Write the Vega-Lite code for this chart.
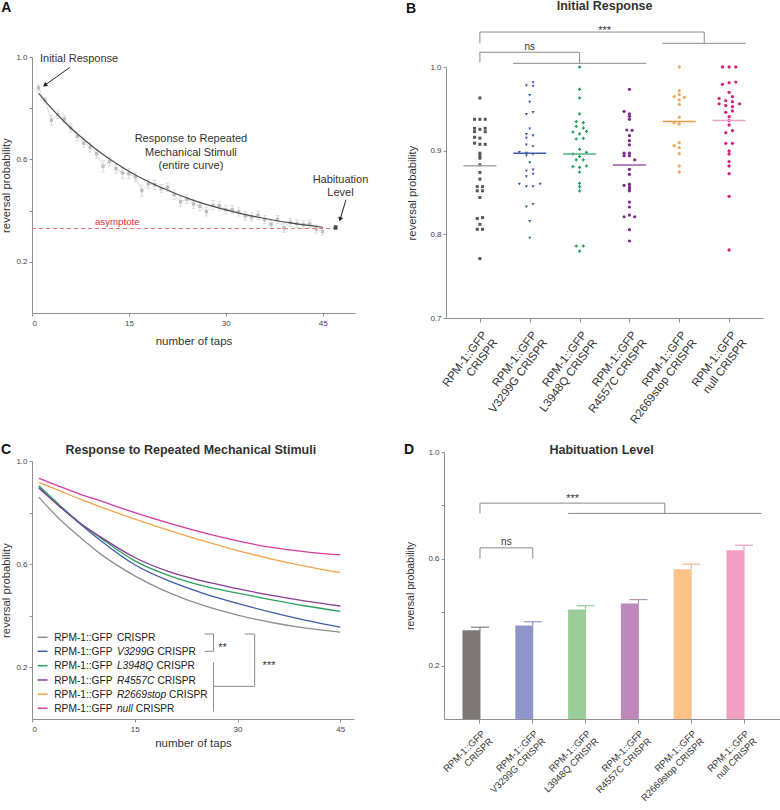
{
"$schema": "https://vega.github.io/schema/vega-lite/v6.json",
"background": "white",
"padding": {"left": 0, "top": 0, "right": 0, "bottom": 0},
"config": {
  "font": "Liberation Sans",
  "view": {"stroke": null},
  "axis": {"grid": false, "domainColor": "#909090", "tickColor": "#909090", "labelColor": "#444444", "titleColor": "#333333", "titleFontWeight": "normal", "labelFontSize": 8, "titleFontSize": 11.3, "tickSize": 3, "labelPadding": 2}
},
"datasets": {
  "a_pts": [
    {"tap":1,"v":0.879,"err":0.012},{"tap":2,"v":0.831,"err":0.012},{"tap":3,"v":0.753,"err":0.02},{"tap":4,"v":0.775,"err":0.015},{"tap":5,"v":0.758,"err":0.013},
    {"tap":6,"v":0.723,"err":0.017},{"tap":7,"v":0.690,"err":0.018},{"tap":8,"v":0.664,"err":0.016},{"tap":9,"v":0.647,"err":0.018},{"tap":10,"v":0.622,"err":0.018},
    {"tap":11,"v":0.573,"err":0.022},{"tap":12,"v":0.592,"err":0.017},{"tap":13,"v":0.564,"err":0.018},{"tap":14,"v":0.547,"err":0.022},{"tap":15,"v":0.544,"err":0.02},
    {"tap":16,"v":0.531,"err":0.018},{"tap":17,"v":0.478,"err":0.022},{"tap":18,"v":0.504,"err":0.017},{"tap":19,"v":0.501,"err":0.018},{"tap":20,"v":0.486,"err":0.016},
    {"tap":21,"v":0.491,"err":0.017},{"tap":22,"v":0.462,"err":0.018},{"tap":23,"v":0.435,"err":0.02},{"tap":24,"v":0.445,"err":0.017},{"tap":25,"v":0.426,"err":0.018},
    {"tap":26,"v":0.417,"err":0.017},{"tap":27,"v":0.396,"err":0.017},{"tap":28,"v":0.421,"err":0.018},{"tap":29,"v":0.419,"err":0.018},{"tap":30,"v":0.404,"err":0.017},
    {"tap":31,"v":0.404,"err":0.016},{"tap":32,"v":0.395,"err":0.016},{"tap":33,"v":0.380,"err":0.017},{"tap":34,"v":0.375,"err":0.016},{"tap":35,"v":0.382,"err":0.016},
    {"tap":36,"v":0.365,"err":0.016},{"tap":37,"v":0.346,"err":0.015},{"tap":38,"v":0.365,"err":0.016},{"tap":39,"v":0.332,"err":0.017},{"tap":40,"v":0.354,"err":0.016},
    {"tap":41,"v":0.349,"err":0.015},{"tap":42,"v":0.345,"err":0.015},{"tap":43,"v":0.348,"err":0.015},{"tap":44,"v":0.328,"err":0.016},{"tap":45,"v":0.319,"err":0.015}
  ],
  "a_fit": [
    {"tap":1,"v":0.859},{"tap":3,"v":0.800},{"tap":5,"v":0.747},{"tap":7,"v":0.700},{"tap":10,"v":0.638},{"tap":13,"v":0.585},{"tap":16,"v":0.539},
    {"tap":20,"v":0.490},{"tap":25,"v":0.440},{"tap":30,"v":0.403},{"tap":35,"v":0.374},{"tap":40,"v":0.352},{"tap":45,"v":0.335}
  ],
  "a_asym": [{"tap":0,"tap2":47,"v":0.330}],
  "a_hab": [{"tap":47,"v":0.334,"err":0.008}],
  "a_txt": [
    {"tap":7.29,"v":0.979,"label":"Initial Response"},
    {"tap":24.6,"v":0.668,"label":"Response to Repeated\nMechanical Stimuli\n(entire curve)"},
    {"tap":47.75,"v":0.509,"label":"Habituation\nLevel"}
  ],
  "a_asymtxt": [{"tap":13.2,"v":0.345,"label":"asymptote"}],
  "a_arr": [{"tap":5.85,"v":0.959,"tap2":1.99,"v2":0.890},{"tap":48.6,"v":0.4426,"tap2":47.7,"v2":0.366}],
  "a_head1": [{"tap":1.99,"v":0.890}],
  "a_head2": [{"tap":47.7,"v":0.366}],
  "a_letter": [{"tap":-4.75,"v":1.1742,"label":"A"}],
  "b_pts": [
    {"g":"CRISPR","v":0.963,"k":0},
    {"g":"CRISPR","v":0.9375,"k":-2},{"g":"CRISPR","v":0.9375,"k":0},{"g":"CRISPR","v":0.9375,"k":2},
    {"g":"CRISPR","v":0.9267,"k":-2},{"g":"CRISPR","v":0.9227,"k":-2},{"g":"CRISPR","v":0.9255,"k":0},{"g":"CRISPR","v":0.9267,"k":2},{"g":"CRISPR","v":0.9227,"k":2},
    {"g":"CRISPR","v":0.916,"k":-2},{"g":"CRISPR","v":0.915,"k":0},
    {"g":"CRISPR","v":0.909,"k":-2},{"g":"CRISPR","v":0.9076,"k":0},{"g":"CRISPR","v":0.9076,"k":2},
    {"g":"CRISPR","v":0.897,"k":0},{"g":"CRISPR","v":0.894,"k":0},{"g":"CRISPR","v":0.891,"k":0},
    {"g":"CRISPR","v":0.883,"k":0},{"g":"CRISPR","v":0.874,"k":0},{"g":"CRISPR","v":0.866,"k":0},
    {"g":"CRISPR","v":0.857,"k":-1},{"g":"CRISPR","v":0.857,"k":1},{"g":"CRISPR","v":0.852,"k":-1},{"g":"CRISPR","v":0.852,"k":1},
    {"g":"CRISPR","v":0.844,"k":0},
    {"g":"CRISPR","v":0.819,"k":-1},{"g":"CRISPR","v":0.820,"k":1},{"g":"CRISPR","v":0.812,"k":0},
    {"g":"CRISPR","v":0.806,"k":-1},{"g":"CRISPR","v":0.806,"k":1},{"g":"CRISPR","v":0.771,"k":0},
    {"g":"V3299G","v":0.9777,"k":-1.25},{"g":"V3299G","v":0.9813,"k":1.25},{"g":"V3299G","v":0.977,"k":1.25},
    {"g":"V3299G","v":0.966,"k":0},{"g":"V3299G","v":0.958,"k":0},
    {"g":"V3299G","v":0.9434,"k":-1.25},{"g":"V3299G","v":0.9458,"k":1.25},{"g":"V3299G","v":0.926,"k":0},
    {"g":"V3299G","v":0.9195,"k":-1.25},{"g":"V3299G","v":0.918,"k":1.25},{"g":"V3299G","v":0.915,"k":-1.25},
    {"g":"V3299G","v":0.907,"k":-1.25},{"g":"V3299G","v":0.905,"k":1.25},
    {"g":"V3299G","v":0.898,"k":-3.9},{"g":"V3299G","v":0.897,"k":-1.25},{"g":"V3299G","v":0.894,"k":-1.25},{"g":"V3299G","v":0.8956,"k":1.25},
    {"g":"V3299G","v":0.8857,"k":0},
    {"g":"V3299G","v":0.8757,"k":-1.25},{"g":"V3299G","v":0.877,"k":1.25},{"g":"V3299G","v":0.872,"k":1.25},{"g":"V3299G","v":0.869,"k":-1.25},
    {"g":"V3299G","v":0.860,"k":-3.9},{"g":"V3299G","v":0.857,"k":-1.25},{"g":"V3299G","v":0.857,"k":1.25},{"g":"V3299G","v":0.860,"k":3.9},
    {"g":"V3299G","v":0.833,"k":-1.25},{"g":"V3299G","v":0.836,"k":1.25},{"g":"V3299G","v":0.8155,"k":0},{"g":"V3299G","v":0.7956,"k":0},
    {"g":"L3948Q","v":1.0,"k":0},{"g":"L3948Q","v":0.9733,"k":0},{"g":"L3948Q","v":0.963,"k":0},{"g":"L3948Q","v":0.944,"k":0},
    {"g":"L3948Q","v":0.9347,"k":-1.25},{"g":"L3948Q","v":0.9335,"k":1.4},{"g":"L3948Q","v":0.929,"k":-1.25},{"g":"L3948Q","v":0.927,"k":1.4},
    {"g":"L3948Q","v":0.9223,"k":-2.5},{"g":"L3948Q","v":0.923,"k":2.6},{"g":"L3948Q","v":0.920,"k":0},
    {"g":"L3948Q","v":0.914,"k":-1.25},{"g":"L3948Q","v":0.9147,"k":1.4},{"g":"L3948Q","v":0.9016,"k":0},
    {"g":"L3948Q","v":0.896,"k":-2.5},{"g":"L3948Q","v":0.898,"k":2.6},
    {"g":"L3948Q","v":0.893,"k":0},{"g":"L3948Q","v":0.889,"k":-1.25},{"g":"L3948Q","v":0.889,"k":1.4},
    {"g":"L3948Q","v":0.881,"k":-2.5},{"g":"L3948Q","v":0.8817,"k":2.6},{"g":"L3948Q","v":0.880,"k":0},{"g":"L3948Q","v":0.8745,"k":0},
    {"g":"L3948Q","v":0.861,"k":0},{"g":"L3948Q","v":0.857,"k":0},{"g":"L3948Q","v":0.852,"k":0},
    {"g":"L3948Q","v":0.786,"k":-1.25},{"g":"L3948Q","v":0.786,"k":1.4},{"g":"L3948Q","v":0.780,"k":0},
    {"g":"R4557C","v":0.9733,"k":0},
    {"g":"R4557C","v":0.947,"k":-2},{"g":"R4557C","v":0.944,"k":0},{"g":"R4557C","v":0.941,"k":0},{"g":"R4557C","v":0.9375,"k":0},
    {"g":"R4557C","v":0.9247,"k":-1},{"g":"R4557C","v":0.9243,"k":1},{"g":"R4557C","v":0.918,"k":0},{"g":"R4557C","v":0.912,"k":0},{"g":"R4557C","v":0.907,"k":0},
    {"g":"R4557C","v":0.897,"k":-2},{"g":"R4557C","v":0.897,"k":0},{"g":"R4557C","v":0.894,"k":-2},{"g":"R4557C","v":0.894,"k":0},{"g":"R4557C","v":0.889,"k":2},
    {"g":"R4557C","v":0.8777,"k":0},{"g":"R4557C","v":0.8717,"k":0},
    {"g":"R4557C","v":0.8586,"k":-2},{"g":"R4557C","v":0.860,"k":0},{"g":"R4557C","v":0.857,"k":0},{"g":"R4557C","v":0.8546,"k":0},{"g":"R4557C","v":0.852,"k":0},
    {"g":"R4557C","v":0.8386,"k":0},{"g":"R4557C","v":0.8327,"k":0},
    {"g":"R4557C","v":0.821,"k":-2},{"g":"R4557C","v":0.823,"k":0},{"g":"R4557C","v":0.821,"k":2},
    {"g":"R4557C","v":0.8056,"k":0},{"g":"R4557C","v":0.792,"k":0},
    {"g":"R2669stop","v":1.0,"k":0},{"g":"R2669stop","v":0.9717,"k":0},
    {"g":"R2669stop","v":0.9647,"k":-1.9},{"g":"R2669stop","v":0.967,"k":0},{"g":"R2669stop","v":0.9637,"k":1.9},{"g":"R2669stop","v":0.9606,"k":0},
    {"g":"R2669stop","v":0.9554,"k":0},{"g":"R2669stop","v":0.94,"k":0},
    {"g":"R2669stop","v":0.9335,"k":-1.9},{"g":"R2669stop","v":0.932,"k":0},
    {"g":"R2669stop","v":0.906,"k":-1.9},{"g":"R2669stop","v":0.9096,"k":0},{"g":"R2669stop","v":0.9036,"k":0},
    {"g":"R2669stop","v":0.8964,"k":0},{"g":"R2669stop","v":0.8817,"k":0},{"g":"R2669stop","v":0.8745,"k":0},
    {"g":"null","v":1.0,"k":-2.5},{"g":"null","v":1.0,"k":0},{"g":"null","v":1.0,"k":2.5},
    {"g":"null","v":0.9793,"k":-2.5},{"g":"null","v":0.9813,"k":0},{"g":"null","v":0.982,"k":2.5},
    {"g":"null","v":0.9697,"k":0},
    {"g":"null","v":0.9625,"k":-3.75},{"g":"null","v":0.9598,"k":-1.25},{"g":"null","v":0.9645,"k":1.25},
    {"g":"null","v":0.956,"k":-3.75},{"g":"null","v":0.954,"k":-1.25},{"g":"null","v":0.9586,"k":1.25},{"g":"null","v":0.956,"k":3.9},
    {"g":"null","v":0.9526,"k":1.25},{"g":"null","v":0.9458,"k":-1.25},{"g":"null","v":0.9474,"k":1.25},
    {"g":"null","v":0.9406,"k":0},{"g":"null","v":0.936,"k":0},{"g":"null","v":0.9307,"k":0},
    {"g":"null","v":0.924,"k":1.25},{"g":"null","v":0.9215,"k":-1.25},
    {"g":"null","v":0.9088,"k":-1.25},{"g":"null","v":0.9088,"k":1.25},
    {"g":"null","v":0.8996,"k":0},{"g":"null","v":0.896,"k":0},{"g":"null","v":0.887,"k":0},{"g":"null","v":0.8817,"k":0},
    {"g":"null","v":0.8725,"k":0},{"g":"null","v":0.8454,"k":0},{"g":"null","v":0.7813,"k":0}
  ],
  "b_med": [{"g":"CRISPR","v":0.882},{"g":"V3299G","v":0.897},{"g":"L3948Q","v":0.896},{"g":"R4557C","v":0.883},{"g":"R2669stop","v":0.935},{"g":"null","v":0.936}],
  "b_br0": [{"g":"CRISPR","g2":"CRISPR","v":1.0418,"v2":1.0283},{"g":"CRISPR","g2":"L3948Q","v":1.0176,"v2":1.0176},{"g":"CRISPR","g2":"CRISPR","v":1.0176,"v2":1.0056},{"g":"L3948Q","g2":"L3948Q","v":1.0176,"v2":1.0044}],
  "b_br1": [{"g":"CRISPR","g2":"R2669stop","v":1.0418,"v2":1.0418}],
  "b_br2": [{"g":"R2669stop","g2":"R2669stop","v":1.0418,"v2":1.0283}],
  "b_br3": [{"g":"R2669stop","g2":"null","v":1.0283,"v2":1.0283},{"g":"V3299G","g2":"R4557C","v":1.0044,"v2":1.0044}],
  "b_title": [{"g":"L3948Q","v":1.0681,"label":"Initial Response"}],
  "b_star": [{"g":"L3948Q","v":1.0397,"label":"***"}],
  "b_ns": [{"g":"V3299G","v":1.0203,"label":"ns"}],
  "b_letter": [{"g":"CRISPR","v":1.0649,"label":"B"}],
  "c_lines": [
    {"g":"CRISPR","tap":1,"v":0.860},{"g":"CRISPR","tap":4,"v":0.775},{"g":"CRISPR","tap":7,"v":0.705},{"g":"CRISPR","tap":10,"v":0.640},{"g":"CRISPR","tap":15,"v":0.555},{"g":"CRISPR","tap":20,"v":0.490},{"g":"CRISPR","tap":25,"v":0.440},{"g":"CRISPR","tap":30,"v":0.403},{"g":"CRISPR","tap":35,"v":0.374},{"g":"CRISPR","tap":40,"v":0.352},{"g":"CRISPR","tap":45,"v":0.337},
    {"g":"V3299G","tap":1,"v":0.898},{"g":"V3299G","tap":4,"v":0.825},{"g":"V3299G","tap":7,"v":0.757},{"g":"V3299G","tap":10,"v":0.692},{"g":"V3299G","tap":15,"v":0.598},{"g":"V3299G","tap":20,"v":0.535},{"g":"V3299G","tap":25,"v":0.487},{"g":"V3299G","tap":30,"v":0.448},{"g":"V3299G","tap":35,"v":0.413},{"g":"V3299G","tap":40,"v":0.382},{"g":"V3299G","tap":45,"v":0.356},
    {"g":"L3948Q","tap":1,"v":0.904},{"g":"L3948Q","tap":4,"v":0.830},{"g":"L3948Q","tap":7,"v":0.760},{"g":"L3948Q","tap":10,"v":0.702},{"g":"L3948Q","tap":15,"v":0.613},{"g":"L3948Q","tap":20,"v":0.556},{"g":"L3948Q","tap":25,"v":0.516},{"g":"L3948Q","tap":30,"v":0.488},{"g":"L3948Q","tap":35,"v":0.462},{"g":"L3948Q","tap":40,"v":0.438},{"g":"L3948Q","tap":45,"v":0.417},
    {"g":"R4557C","tap":1,"v":0.894},{"g":"R4557C","tap":4,"v":0.825},{"g":"R4557C","tap":7,"v":0.760},{"g":"R4557C","tap":10,"v":0.706},{"g":"R4557C","tap":15,"v":0.626},{"g":"R4557C","tap":20,"v":0.571},{"g":"R4557C","tap":25,"v":0.534},{"g":"R4557C","tap":30,"v":0.505},{"g":"R4557C","tap":35,"v":0.479},{"g":"R4557C","tap":40,"v":0.457},{"g":"R4557C","tap":45,"v":0.438},
    {"g":"R2669stop","tap":1,"v":0.917},{"g":"R2669stop","tap":4,"v":0.885},{"g":"R2669stop","tap":7,"v":0.852},{"g":"R2669stop","tap":10,"v":0.822},{"g":"R2669stop","tap":15,"v":0.775},{"g":"R2669stop","tap":20,"v":0.731},{"g":"R2669stop","tap":25,"v":0.690},{"g":"R2669stop","tap":30,"v":0.653},{"g":"R2669stop","tap":35,"v":0.620},{"g":"R2669stop","tap":40,"v":0.592},{"g":"R2669stop","tap":45,"v":0.567},
    {"g":"null","tap":1,"v":0.933},{"g":"null","tap":4,"v":0.902},{"g":"null","tap":7,"v":0.872},{"g":"null","tap":10,"v":0.845},{"g":"null","tap":15,"v":0.800},{"g":"null","tap":20,"v":0.759},{"g":"null","tap":25,"v":0.722},{"g":"null","tap":30,"v":0.690},{"g":"null","tap":35,"v":0.665},{"g":"null","tap":40,"v":0.648},{"g":"null","tap":45,"v":0.636}
  ],
  "c_leg": [
    {"g":"CRISPR","tap":0.82,"tap2":2.27,"v":0.3167},{"g":"V3299G","tap":0.82,"tap2":2.27,"v":0.2624},{"g":"L3948Q","tap":0.82,"tap2":2.27,"v":0.2066},
    {"g":"R4557C","tap":0.82,"tap2":2.27,"v":0.1512},{"g":"R2669stop","tap":0.82,"tap2":2.27,"v":0.0957},{"g":"null","tap":0.82,"tap2":2.27,"v":0.0415}
  ],
  "c_txt": [
    {"tap":3.25,"v":0.3023,"label":"RPM-1::GFP"},{"tap":3.25,"v":0.2481,"label":"RPM-1::GFP"},{"tap":3.25,"v":0.1922,"label":"RPM-1::GFP"},
    {"tap":3.25,"v":0.1368,"label":"RPM-1::GFP"},{"tap":3.25,"v":0.0814,"label":"RPM-1::GFP"},{"tap":3.25,"v":0.0271,"label":"RPM-1::GFP"},
    {"tap":12.39,"v":0.3023,"label":"CRISPR"},{"tap":18.31,"v":0.2481,"label":"CRISPR"},{"tap":18.16,"v":0.1922,"label":"CRISPR"},
    {"tap":18.31,"v":0.1368,"label":"CRISPR"},{"tap":20.01,"v":0.0814,"label":"CRISPR"},{"tap":15.16,"v":0.0271,"label":"CRISPR"}
  ],
  "c_it": [
    {"tap":12.39,"v":0.2481,"label":"V3299G"},{"tap":12.39,"v":0.1922,"label":"L3948Q"},{"tap":12.39,"v":0.1368,"label":"R4557C"},
    {"tap":12.39,"v":0.0814,"label":"R2669stop"},{"tap":12.39,"v":0.0271,"label":"null"}
  ],
  "c_br": [
    {"tap":25.2,"tap2":26.5,"v":0.3295,"v2":0.3295},{"tap":26.5,"tap2":26.5,"v":0.3295,"v2":0.2624},{"tap":25.2,"tap2":26.5,"v":0.2624,"v2":0.2624},
    {"tap":26.5,"tap2":26.5,"v":0.2198,"v2":0.0283},{"tap":26.5,"tap2":32.5,"v":0.1267,"v2":0.1267},
    {"tap":31.05,"tap2":32.5,"v":0.3295,"v2":0.3295},{"tap":32.5,"tap2":32.5,"v":0.3295,"v2":0.1267}
  ],
  "c_bt": [{"tap":27.8,"v":0.2636,"label":"**"},{"tap":34.6,"v":0.195,"label":"***"}],
  "c_letter": [{"tap":-4.52,"v":1.027,"label":"C"}],
  "c_title": [{"tap":23.18,"v":1.028,"label":"Response to Repeated Mechanical Stimuli"}],
  "d_bars": [
    {"g":"CRISPR","v":0.332,"hi":0.344},{"g":"V3299G","v":0.350,"hi":0.364},{"g":"L3948Q","v":0.410,"hi":0.424},
    {"g":"R4557C","v":0.433,"hi":0.447},{"g":"R2669stop","v":0.561,"hi":0.580},{"g":"null","v":0.632,"hi":0.651}
  ],
  "d_br0": [{"g":"CRISPR","g2":"CRISPR","v":0.8085,"v2":0.770},{"g":"CRISPR","g2":"V3299G","v":0.641,"v2":0.641},{"g":"CRISPR","g2":"CRISPR","v":0.641,"v2":0.601},{"g":"V3299G","g2":"V3299G","v":0.641,"v2":0.601}],
  "d_br1": [{"g":"CRISPR","g2":"R4557C","v":0.8085,"v2":0.8085}],
  "d_br2": [{"g":"R4557C","g2":"R4557C","v":0.8085,"v2":0.770}],
  "d_br3": [{"g":"L3948Q","g2":"null","v":0.770,"v2":0.770}],
  "d_title": [{"g":"L3948Q","v":0.9938,"label":"Habituation Level"}],
  "d_star": [{"g":"L3948Q","v":0.8125,"label":"***"}],
  "d_ns": [{"g":"CRISPR","v":0.652,"label":"ns"}],
  "d_letter": [{"g":"CRISPR","v":0.9927,"label":"D"}]
},
"spacing": 16,
"bounds": "full",
"resolve": {"scale": {"color": "independent", "fill": "independent", "stroke": "independent", "shape": "independent", "size": "independent"}},
"vconcat": [
  {
    "spacing": 36,
    "bounds": "full",
    "resolve": {"scale": {"color": "independent", "fill": "independent", "stroke": "independent", "shape": "independent", "size": "independent"}},
    "hconcat": [
      {
        "width": 323, "height": 256,
        "encoding": {
          "x": {"field": "tap", "type": "quantitative", "scale": {"domain": [0, 50]}, "axis": {"values": [0, 15, 30, 45], "title": "number of taps", "titleFontSize": 11.5, "titlePadding": 8, "labelPadding": 3}},
          "y": {"field": "v", "type": "quantitative", "scale": {"domain": [0, 1]}, "axis": {"values": [0.2, 0.4, 0.6, 0.8, 1], "labelExpr": "datum.value == 0.4 || datum.value == 0.8 ? '' : format(datum.value, '.1f')", "title": "reversal probability", "titlePadding": 4}}
        },
        "layer": [
          {"data": {"name": "a_pts"}, "mark": {"type": "errorbar", "color": "#cccccc", "thickness": 0.8, "ticks": {"size": 4, "thickness": 0.8, "color": "#cccccc"}}, "encoding": {"yError": {"field": "err"}}},
          {"data": {"name": "a_pts"}, "mark": {"type": "line", "color": "#d3d3d3", "strokeWidth": 0.8}},
          {"data": {"name": "a_pts"}, "mark": {"type": "square", "color": "#bdbdbd", "size": 11, "opacity": 1}},
          {"data": {"name": "a_fit"}, "mark": {"type": "line", "color": "#4d4d4d", "strokeWidth": 1.2, "interpolate": "monotone"}},
          {"data": {"name": "a_asym"}, "mark": {"type": "rule", "color": "#ea7070", "strokeWidth": 1, "strokeDash": [4, 3]}, "encoding": {"x2": {"field": "tap2"}}},
          {"data": {"name": "a_hab"}, "mark": {"type": "errorbar", "color": "#888888", "ticks": {"size": 4, "color": "#888888"}}, "encoding": {"yError": {"field": "err"}}},
          {"data": {"name": "a_hab"}, "mark": {"type": "square", "color": "#444444", "size": 14, "opacity": 1}},
          {"data": {"name": "a_txt"}, "mark": {"type": "text", "fontSize": 11, "color": "#333333", "align": "center", "baseline": "alphabetic", "lineBreak": "\n", "lineHeight": 13.7}, "encoding": {"text": {"field": "label"}}},
          {"data": {"name": "a_asymtxt"}, "mark": {"type": "text", "fontSize": 9.7, "color": "#d9342b", "align": "center", "baseline": "alphabetic"}, "encoding": {"text": {"field": "label"}}},
          {"data": {"name": "a_arr"}, "mark": {"type": "rule", "color": "#222222", "strokeWidth": 1}, "encoding": {"x2": {"field": "tap2"}, "y2": {"field": "v2"}}},
          {"data": {"name": "a_head1"}, "mark": {"type": "point", "shape": "triangle-up", "filled": true, "color": "#222222", "size": 25, "angle": 234.8, "opacity": 1}},
          {"data": {"name": "a_head2"}, "mark": {"type": "point", "shape": "triangle-up", "filled": true, "color": "#222222", "size": 25, "angle": 197.6, "opacity": 1}},
          {"data": {"name": "a_letter"}, "mark": {"type": "text", "fontSize": 14, "fontWeight": "bold", "align": "left", "baseline": "alphabetic", "color": "#111111"}, "encoding": {"text": {"field": "label"}}}
        ]
      },
      {
        "width": 317, "height": 261,
        "encoding": {
          "x": {"field": "g", "type": "nominal", "scale": {"type": "point", "domain": ["CRISPR","V3299G","L3948Q","R4557C","R2669stop","null"], "padding": 0.68},
                "axis": {"title": null, "labelAngle": -53, "labelAlign": "right", "labelBaseline": "top", "labelFontSize": 11.5, "labelLineHeight": 13, "labelPadding": 7, "labelColor": "#333333", "labelOverlap": false, "tickSize": 4,
                         "labelExpr": "datum.value == 'CRISPR' ? ['RPM-1::GFP', 'CRISPR'] : ['RPM-1::GFP', datum.value + ' CRISPR']"}},
          "y": {"field": "v", "type": "quantitative", "scale": {"domain": [0.7, 1], "range": [261, 10]}, "axis": {"values": [0.7, 0.8, 0.9, 1], "format": ".1f", "title": "reversal probability", "titlePadding": 12}}
        },
        "layer": [
          {"data": {"name": "b_pts"}, "mark": {"type": "point", "filled": true, "opacity": 1, "strokeWidth": 0},
           "encoding": {
             "xOffset": {"field": "k", "type": "quantitative", "scale": {"domain": [-4, 4], "range": [-10.67, 10.67]}},
             "fill": {"field": "g", "type": "nominal", "scale": {"domain": ["CRISPR","V3299G","L3948Q","R4557C","R2669stop","null"], "range": ["#555555","#3d58a8","#1e9e57","#7b2a8b","#f0aa58","#d4247f"]}, "legend": null},
             "shape": {"field": "g", "type": "nominal", "scale": {"domain": ["CRISPR","V3299G","L3948Q","R4557C","R2669stop","null"], "range": ["square","triangle-down","cross","circle","circle","circle"]}, "legend": null},
             "size": {"field": "g", "type": "ordinal", "scale": {"domain": ["CRISPR","V3299G","L3948Q","R4557C","R2669stop","null"], "range": [9, 11, 11, 9, 6, 13]}, "legend": null}
           }},
          {"data": {"name": "b_med"}, "mark": {"type": "tick", "size": 33, "thickness": 1.5, "opacity": 1},
           "encoding": {"color": {"field": "g", "type": "nominal", "scale": {"domain": ["CRISPR","V3299G","L3948Q","R4557C","R2669stop","null"], "range": ["#a8a8a8","#3d58a8","#4cb585","#a557b4","#f0a040","#eba3c8"]}, "legend": null}}},
          {"data": {"name": "b_br0"}, "mark": {"type": "rule", "color": "#8a8a8a", "strokeWidth": 1}, "encoding": {"x2": {"field": "g2"}, "y2": {"field": "v2"}}},
          {"data": {"name": "b_br1"}, "mark": {"type": "rule", "color": "#8a8a8a", "strokeWidth": 1, "x2Offset": 25}, "encoding": {"x2": {"field": "g2"}, "y2": {"field": "v2"}}},
          {"data": {"name": "b_br2"}, "mark": {"type": "rule", "color": "#8a8a8a", "strokeWidth": 1, "xOffset": 25, "x2Offset": 25}, "encoding": {"x2": {"field": "g2"}, "y2": {"field": "v2"}}},
          {"data": {"name": "b_br3"}, "mark": {"type": "rule", "color": "#8a8a8a", "strokeWidth": 1, "xOffset": -16.7, "x2Offset": 16.7}, "encoding": {"x2": {"field": "g2"}, "y2": {"field": "v2"}}},
          {"data": {"name": "b_title"}, "mark": {"type": "text", "fontSize": 12.5, "fontWeight": "bold", "align": "center", "baseline": "alphabetic", "color": "#333333", "dx": 25}, "encoding": {"text": {"field": "label"}}},
          {"data": {"name": "b_star"}, "mark": {"type": "text", "fontSize": 11, "align": "center", "baseline": "alphabetic", "color": "#333333", "dx": 25}, "encoding": {"text": {"field": "label"}}},
          {"data": {"name": "b_ns"}, "mark": {"type": "text", "fontSize": 10, "align": "center", "baseline": "alphabetic", "color": "#333333"}, "encoding": {"text": {"field": "label"}}},
          {"data": {"name": "b_letter"}, "mark": {"type": "text", "fontSize": 14, "fontWeight": "bold", "align": "left", "baseline": "alphabetic", "color": "#111111", "dx": -74}, "encoding": {"text": {"field": "label"}}}
        ]
      }
    ]
  },
  {
    "spacing": 49,
    "bounds": "full",
    "resolve": {"scale": {"color": "independent", "fill": "independent", "stroke": "independent", "shape": "independent", "size": "independent"}},
    "hconcat": [
      {
        "width": 322, "height": 267,
        "encoding": {
          "x": {"field": "tap", "type": "quantitative", "scale": {"domain": [0, 47]}, "axis": {"values": [0, 15, 30, 45], "title": "number of taps", "titleFontSize": 11.5, "titlePadding": 4, "labelPadding": 3}},
          "y": {"field": "v", "type": "quantitative", "scale": {"domain": [0, 1], "range": [267, 9]}, "axis": {"values": [0.2, 0.4, 0.6, 0.8, 1], "labelExpr": "datum.value == 0.4 || datum.value == 0.8 ? '' : format(datum.value, '.1f')", "title": "reversal probability", "titlePadding": 4}}
        },
        "layer": [
          {"data": {"name": "c_lines"}, "mark": {"type": "line", "strokeWidth": 1.3, "interpolate": "monotone"},
           "encoding": {"color": {"field": "g", "type": "nominal", "scale": {"domain": ["CRISPR","V3299G","L3948Q","R4557C","R2669stop","null"], "range": ["#8f8f8f","#3e5ba8","#2aa15b","#8b3a98","#f5a34d","#d73a9f"]}, "legend": null}}},
          {"data": {"name": "c_leg"}, "mark": {"type": "rule", "strokeWidth": 1.5}, "encoding": {"x2": {"field": "tap2"}, "color": {"field": "g", "type": "nominal", "legend": null}}},
          {"data": {"name": "c_txt"}, "mark": {"type": "text", "fontSize": 10.2, "align": "left", "baseline": "alphabetic", "color": "#222222"}, "encoding": {"text": {"field": "label"}}},
          {"data": {"name": "c_it"}, "mark": {"type": "text", "fontSize": 10.2, "fontStyle": "italic", "align": "left", "baseline": "alphabetic", "color": "#222222"}, "encoding": {"text": {"field": "label"}}},
          {"data": {"name": "c_br"}, "mark": {"type": "rule", "color": "#8a8a8a", "strokeWidth": 1}, "encoding": {"x2": {"field": "tap2"}, "y2": {"field": "v2"}}},
          {"data": {"name": "c_bt"}, "mark": {"type": "text", "fontSize": 11, "align": "center", "baseline": "alphabetic", "color": "#333333"}, "encoding": {"text": {"field": "label"}}},
          {"data": {"name": "c_title"}, "mark": {"type": "text", "fontSize": 12.5, "fontWeight": "bold", "align": "center", "baseline": "alphabetic", "color": "#333333"}, "encoding": {"text": {"field": "label"}}},
          {"data": {"name": "c_letter"}, "mark": {"type": "text", "fontSize": 14, "fontWeight": "bold", "align": "left", "baseline": "alphabetic", "color": "#111111"}, "encoding": {"text": {"field": "label"}}}
        ]
      },
      {
        "width": 336, "height": 267,
        "encoding": {
          "x": {"field": "g", "type": "nominal", "scale": {"type": "band", "domain": ["CRISPR","V3299G","L3948Q","R4557C","R2669stop","null"], "paddingInner": 0.337, "paddingOuter": 0.35},
                "axis": {"title": null, "labelAngle": -45, "labelAlign": "right", "labelBaseline": "top", "labelFontSize": 9.5, "labelLineHeight": 11, "labelPadding": 5, "labelColor": "#333333", "labelOverlap": false, "tickSize": 4,
                         "labelExpr": "datum.value == 'CRISPR' ? ['RPM-1::GFP', 'CRISPR'] : ['RPM-1::GFP', datum.value + ' CRISPR']"}},
          "y": {"field": "v", "type": "quantitative", "scale": {"domain": [0, 1]}, "axis": {"values": [0.2, 0.4, 0.6, 0.8, 1], "labelExpr": "datum.value == 0.4 || datum.value == 0.8 ? '' : format(datum.value, '.1f')", "title": "reversal probability", "titleFontSize": 10.5, "titlePadding": 12}}
        },
        "layer": [
          {"data": {"name": "d_bars"}, "mark": {"type": "bar"},
           "encoding": {"fill": {"field": "g", "type": "nominal", "scale": {"domain": ["CRISPR","V3299G","L3948Q","R4557C","R2669stop","null"], "range": ["#7d7775","#8f96cb","#9acd98","#bd88bc","#fdc286","#f2a0c1"]}, "legend": null}}},
          {"data": {"name": "d_bars"}, "mark": {"type": "rule", "strokeWidth": 1},
           "encoding": {"y2": {"field": "hi"}, "stroke": {"field": "g", "type": "nominal", "scale": {"domain": ["CRISPR","V3299G","L3948Q","R4557C","R2669stop","null"], "range": ["#6e6a68","#7f86c2","#86c286","#b07ab0","#f6ad6a","#e88db4"]}, "legend": null}}},
          {"data": {"name": "d_bars"}, "mark": {"type": "tick", "size": 18, "thickness": 1, "opacity": 1},
           "encoding": {"y": {"field": "hi", "type": "quantitative", "title": "reversal probability"}, "color": {"field": "g", "type": "nominal", "scale": {"domain": ["CRISPR","V3299G","L3948Q","R4557C","R2669stop","null"], "range": ["#6e6a68","#7f86c2","#86c286","#b07ab0","#f6ad6a","#e88db4"]}, "legend": null}}},
          {"data": {"name": "d_br0"}, "mark": {"type": "rule", "color": "#8a8a8a", "strokeWidth": 1}, "encoding": {"x2": {"field": "g2"}, "y2": {"field": "v2"}}},
          {"data": {"name": "d_br1"}, "mark": {"type": "rule", "color": "#8a8a8a", "strokeWidth": 1, "x2Offset": 26.4}, "encoding": {"x2": {"field": "g2"}, "y2": {"field": "v2"}}},
          {"data": {"name": "d_br2"}, "mark": {"type": "rule", "color": "#8a8a8a", "strokeWidth": 1, "xOffset": 26.4, "x2Offset": 26.4}, "encoding": {"x2": {"field": "g2"}, "y2": {"field": "v2"}}},
          {"data": {"name": "d_br3"}, "mark": {"type": "rule", "color": "#8a8a8a", "strokeWidth": 1, "xOffset": -17.5, "x2Offset": 17.5}, "encoding": {"x2": {"field": "g2"}, "y2": {"field": "v2"}}},
          {"data": {"name": "d_title"}, "mark": {"type": "text", "fontSize": 12.5, "fontWeight": "bold", "align": "center", "baseline": "alphabetic", "color": "#333333", "dx": 16}, "encoding": {"text": {"field": "label"}}},
          {"data": {"name": "d_star"}, "mark": {"type": "text", "fontSize": 11, "align": "center", "baseline": "alphabetic", "color": "#333333", "dx": -13}, "encoding": {"text": {"field": "label"}}},
          {"data": {"name": "d_ns"}, "mark": {"type": "text", "fontSize": 10, "align": "center", "baseline": "alphabetic", "color": "#333333", "dx": 26.4}, "encoding": {"text": {"field": "label"}}},
          {"data": {"name": "d_letter"}, "mark": {"type": "text", "fontSize": 14, "fontWeight": "bold", "align": "left", "baseline": "alphabetic", "color": "#111111", "dx": -76}, "encoding": {"text": {"field": "label"}}}
        ]
      }
    ]
  }
]
}
